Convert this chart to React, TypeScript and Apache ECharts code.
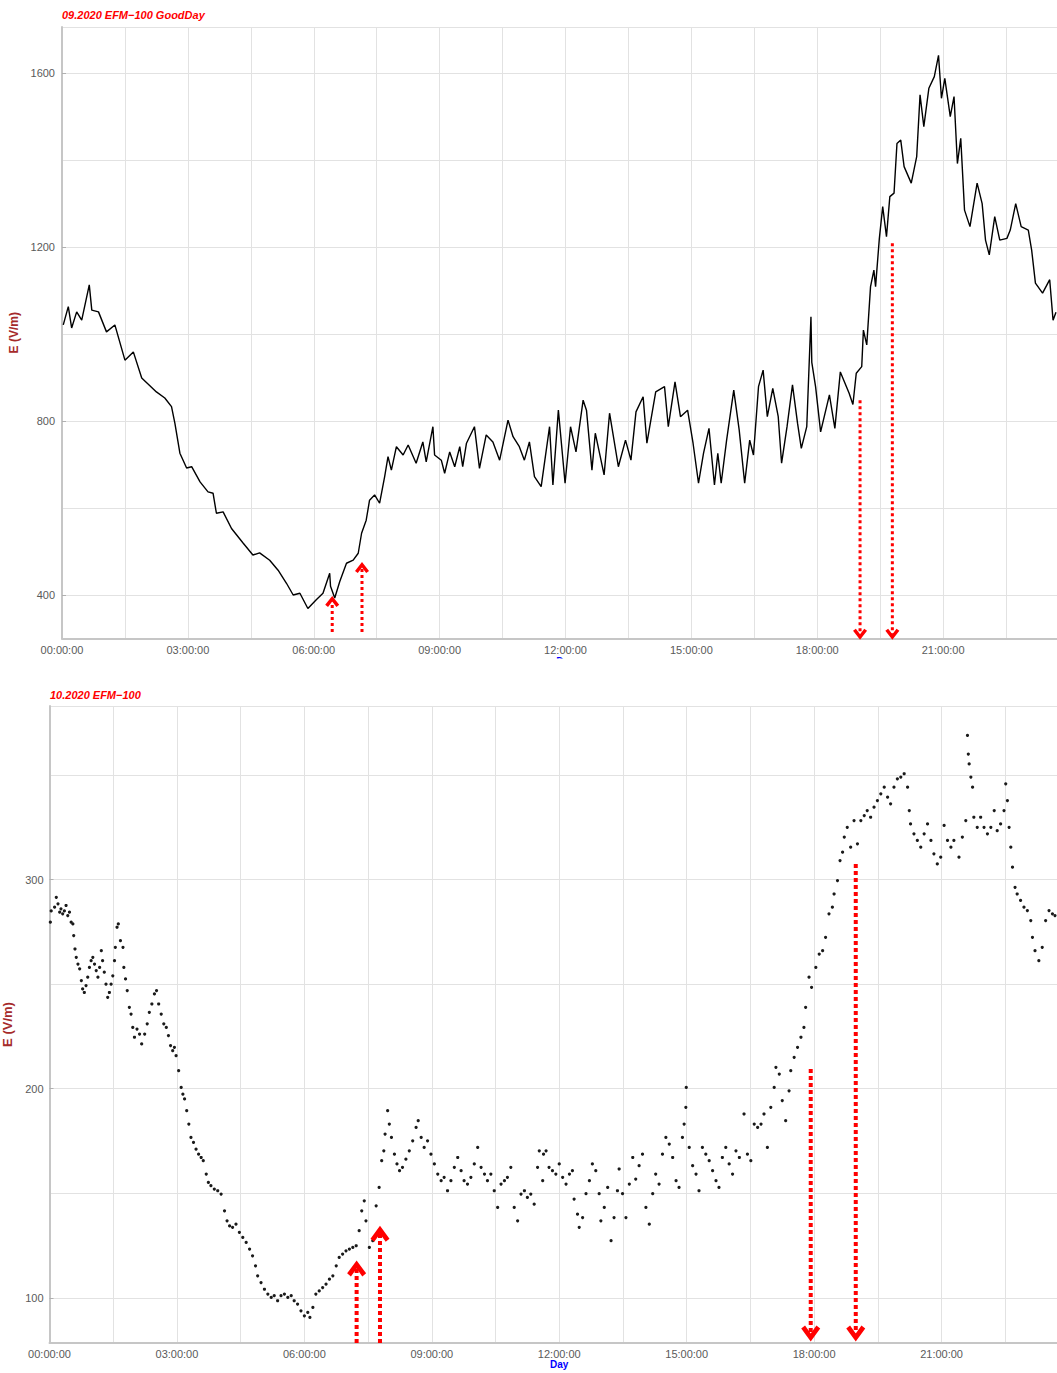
import React, { useEffect, useRef } from "react";
import * as echarts from "echarts";

// ---------- Data ----------
const topTitle = "09.2020 EFM\u2212100 GoodDay";
const bottomTitle = "10.2020 EFM\u2212100";
const yAxisName = "E (V/m)";
const xAxisName = "Day";

const xTickHours = [0, 3, 6, 9, 12, 15, 18, 21];
const topYTicks = [400, 800, 1200, 1600];
const bottomYTicks = [100, 200, 300];

// Top panel (09.2020, line)
const topHours = [
  0.03, 0.15, 0.23, 0.35, 0.47, 0.65, 0.71, 0.87, 1.06, 1.26, 1.5, 1.7, 1.9, 2.25, 2.45, 2.61, 2.69, 2.81, 2.97, 3.09,
  3.29, 3.48, 3.6, 3.68, 3.84, 4.04, 4.32, 4.55, 4.71, 4.95, 5.15, 5.35, 5.51, 5.67, 5.86, 6.06, 6.22, 6.38, 6.4, 6.5,
  6.62, 6.78, 6.94, 7.06, 7.14, 7.25, 7.33, 7.45, 7.57, 7.69, 7.77, 7.85, 7.97, 8.13, 8.25, 8.44, 8.6, 8.68, 8.84, 8.88,
  9.04, 9.12, 9.24, 9.36, 9.48, 9.55, 9.64, 9.83, 9.95, 10.11, 10.27, 10.43, 10.63, 10.75, 10.9, 11.02, 11.14, 11.26, 11.42, 11.62,
  11.7, 11.83, 11.99, 12.12, 12.25, 12.42, 12.5, 12.63, 12.71, 12.92, 13.05, 13.26, 13.43, 13.56, 13.68, 13.85, 13.94, 14.15, 14.36, 14.45,
  14.61, 14.74, 14.91, 15.04, 15.17, 15.29, 15.42, 15.55, 15.63, 15.71, 15.84, 16.01, 16.14, 16.27, 16.39, 16.48, 16.6, 16.71, 16.81, 16.94,
  17.07, 17.15, 17.28, 17.41, 17.53, 17.62, 17.75, 17.85, 17.87, 17.96, 18.08, 18.29, 18.42, 18.55, 18.76, 18.85, 18.93, 19.06, 19.1, 19.18,
  19.27, 19.35, 19.39, 19.48, 19.56, 19.65, 19.73, 19.83, 19.9, 19.99, 20.07, 20.24, 20.37, 20.45, 20.54, 20.66, 20.79, 20.89, 20.96, 21.04,
  21.17, 21.26, 21.34, 21.42, 21.51, 21.64, 21.81, 21.93, 22.01, 22.1, 22.23, 22.35, 22.52, 22.6, 22.73, 22.86, 23.03, 23.11, 23.2, 23.37,
  23.54, 23.62, 23.69,
];
const topValues = [
  1021, 1063, 1014, 1051, 1032, 1113, 1055, 1051, 1005, 1021, 940, 959, 899, 867, 853, 833, 795, 726, 692, 695,
  660, 637, 634, 588, 591, 553, 519, 492, 497, 480, 457, 427, 400, 404, 369, 389, 404, 450, 420, 393,
  431, 473, 480, 496, 542, 572, 618, 630, 611, 672, 718, 687, 741, 722, 745, 703, 752, 706, 787, 722,
  710, 680, 729, 695, 741, 695, 749, 787, 691, 768, 752, 710, 802, 764, 741, 710, 752, 672, 649, 787,
  653, 825, 657, 787, 729, 848, 825, 687, 772, 676, 818, 695, 756, 710, 821, 856, 749, 867, 879, 787,
  890, 810, 825, 749, 657, 726, 783, 653, 726, 657, 756, 871, 779, 657, 756, 722, 879, 917, 810, 875,
  810, 703, 787, 883, 795, 737, 787, 1040, 935, 879, 775, 860, 783, 913, 864, 838, 910, 925, 1009, 975,
  1109, 1147, 1109, 1220, 1293, 1224, 1316, 1324, 1438, 1446, 1385, 1347, 1408, 1550, 1477, 1565, 1592, 1641, 1542, 1588,
  1500, 1546, 1392, 1450, 1285, 1247, 1347, 1300, 1216, 1182, 1270, 1216, 1220, 1239, 1300, 1247, 1239, 1193, 1117, 1094,
  1125, 1032, 1050,
];

// Bottom panel (10.2020, dots)
const bottomHours = [
  0.02, 0.04, 0.12, 0.16, 0.2, 0.24, 0.27, 0.31, 0.35, 0.39, 0.43, 0.47, 0.51, 0.55, 0.57, 0.6, 0.63, 0.67, 0.71, 0.75,
  0.78, 0.82, 0.86, 0.9, 0.94, 0.98, 1.02, 1.06, 1.1, 1.14, 1.18, 1.22, 1.25, 1.29, 1.33, 1.37, 1.41, 1.45, 1.49, 1.53,
  1.55, 1.59, 1.62, 1.67, 1.73, 1.75, 1.79, 1.83, 1.88, 1.92, 1.96, 2.0, 2.06, 2.12, 2.17, 2.24, 2.3, 2.35, 2.41, 2.47,
  2.52, 2.57, 2.63, 2.69, 2.75, 2.8, 2.85, 2.9, 2.94, 2.98, 3.04, 3.1, 3.14, 3.18, 3.23, 3.28, 3.33, 3.39, 3.45, 3.51,
  3.57, 3.62, 3.69, 3.74, 3.8, 3.88, 3.96, 4.04, 4.12, 4.18, 4.24, 4.31, 4.39, 4.47, 4.55, 4.63, 4.71, 4.78, 4.85, 4.9,
  4.98, 5.06, 5.14, 5.22, 5.29, 5.37, 5.45, 5.53, 5.61, 5.69, 5.76, 5.84, 5.92, 6.0, 6.08, 6.13, 6.2, 6.27, 6.35, 6.43,
  6.51, 6.59, 6.67, 6.75, 6.82, 6.9, 6.98, 7.06, 7.14, 7.22, 7.29, 7.35, 7.41, 7.45, 7.53, 7.61, 7.69, 7.76, 7.82, 7.87,
  7.9, 7.96, 8.0, 8.05, 8.12, 8.18, 8.24, 8.31, 8.39, 8.47, 8.55, 8.63, 8.68, 8.75, 8.82, 8.9, 8.98, 9.06, 9.14, 9.22,
  9.29, 9.37, 9.45, 9.53, 9.61, 9.69, 9.76, 9.84, 9.92, 10.0, 10.08, 10.16, 10.24, 10.31, 10.39, 10.47, 10.55, 10.63, 10.71, 10.78,
  10.86, 10.94, 11.02, 11.1, 11.18, 11.25, 11.33, 11.41, 11.49, 11.53, 11.61,
  11.63, 11.69, 11.76, 11.84, 11.92, 12.0, 12.08, 12.16, 12.24, 12.31, 12.35, 12.43, 12.47, 12.55, 12.63, 12.71, 12.78, 12.86, 12.94, 12.98,
  13.06, 13.14, 13.22, 13.29, 13.37, 13.41, 13.49, 13.57, 13.65, 13.73, 13.8, 13.88, 13.96, 14.04, 14.12, 14.2, 14.27, 14.35, 14.43, 14.51,
  14.59, 14.67, 14.75, 14.82, 14.9, 14.94, 14.98, 14.99, 15.06, 15.14, 15.22, 15.29, 15.37, 15.45, 15.53, 15.61, 15.69, 15.76, 15.84, 15.92,
  16.0, 16.08, 16.16, 16.24, 16.35, 16.43, 16.51, 16.59, 16.67, 16.75, 16.82, 16.9, 16.98, 17.06, 17.1, 17.18, 17.25, 17.33, 17.41, 17.45,
  17.53, 17.61, 17.69, 17.76, 17.8, 17.88, 17.94, 18.04, 18.12, 18.2, 18.27, 18.35, 18.43, 18.47, 18.55, 18.61, 18.67, 18.71, 18.78, 18.86,
  18.94, 19.02, 19.1, 19.18, 19.25, 19.33, 19.41, 19.49, 19.57, 19.65, 19.73, 19.8, 19.88, 19.96, 20.04, 20.12, 20.2, 20.24, 20.27, 20.35,
  20.43, 20.51, 20.59, 20.67, 20.75, 20.82, 20.9, 20.98, 21.06, 21.14, 21.22, 21.29, 21.41, 21.49, 21.57, 21.61, 21.63, 21.65, 21.69, 21.73,
  21.76, 21.84, 21.92, 22.0, 22.08, 22.16, 22.24, 22.31, 22.39, 22.47, 22.51, 22.55, 22.59, 22.63, 22.67, 22.73, 22.78, 22.86, 22.94, 23.02,
  23.1, 23.14, 23.2, 23.29, 23.37, 23.45, 23.53, 23.61, 23.67,
];
const bottomValues = [
  279.6, 285, 286.8, 291.5, 288.4, 284.4, 286, 283.6, 285, 287.6, 282.8, 284.4, 279.6, 278.8, 273.2, 266.8, 262.8, 259.6, 257.3, 251.7,
  247.7, 246, 249.3, 253.3, 258, 261.2, 262.8, 259.6, 256.5, 253.3, 258, 266, 261.2, 255.7, 250, 243.7, 246, 250, 254, 261.2,
  267.6, 277.2, 278.8, 270.8, 267.6, 258, 252.5, 246.9, 238.9, 235.7, 229.3, 224.6, 228.5, 226.1, 221.4, 226.1, 231, 236.5, 240.5, 245.3,
  246.9, 240.5, 235.7, 231, 229.3, 225.4, 220.6, 218.2, 219.8, 215.8, 208.6, 200.6, 197.4, 195.1, 189.5, 183.1, 176.7, 174.3, 171.1, 168.7,
  167.1, 165.6, 159.2, 155.2, 153.6, 152, 151.2, 149.6, 141.6, 136.8, 134.4, 133.7, 135.2, 131.3, 128.9, 126.5, 123.3, 120.1, 115.3, 110.5,
  107.3, 104.1, 101.8, 100.2, 101, 98.6, 101, 101.8, 100.2, 101, 98.6, 97, 93.8, 91.4, 93, 90.6, 95.4, 101.8, 103.3, 104.9,
  106.5, 108.9, 110.5, 115.3, 119.3, 120.9, 122.5, 123.3, 124.1, 124.9, 132.1, 141.6, 146.4, 136.8, 124.1, 127.3, 144, 152.8, 165.6, 170.3,
  178.3, 189.5, 183.1, 176.7, 168.7, 164, 160.8, 162.4, 166.3, 170.3, 175.1, 181.5, 184.7, 176.7, 171.9, 175.1, 168.7, 164, 159.2, 156,
  157.6, 151.2, 156, 162.4, 167.1, 160.8, 156, 154.4, 157.6, 164, 171.9, 162.4, 159.2, 156, 159.2, 151.2, 143.2, 154.4, 156, 157.6,
  162.4, 143.2, 136.8, 149.6, 151.2, 148, 149.6, 144.8, 162.4, 170.3, 156,
  168.7, 170.3, 162.4, 160.8, 159.2, 164, 157.6, 154.4, 159.2, 160.8, 147.2, 140, 133.7, 138.4, 149.8, 156, 164, 160.8, 149.8, 136.8,
  143.2, 152.8, 127.3, 138.4, 151.2, 161.6, 149.8, 138.4, 154.4, 167.1, 156.8, 163.2, 168.7, 143.2, 135.2, 149.8, 159.2, 154.4, 168.7, 176.7,
  173.5, 167.1, 156, 152.8, 176.7, 183.1, 191.1, 200.6, 171.9, 163.2, 159.2, 151.2, 171.9, 168.7, 165.6, 160.8, 156, 152.8, 167.1, 171.9,
  164, 159.2, 170.3, 167.1, 187.9, 168.7, 165.6, 183.1, 181.5, 183.1, 187.9, 171.9, 191.1, 200.6, 210.2, 207, 194.3, 184.7, 199, 208.6,
  215, 219.8, 224.6, 229.3, 238.9, 253.3, 248.5, 258, 264.4, 266, 272.4, 283.6, 286.8, 293.1, 299.5, 309.1, 313.1, 320.3, 325, 315.5,
  328.2, 317.1, 328.2, 330.6, 333, 329.8, 334.6, 337.8, 341, 344.2, 339.4, 336.2, 344.2, 348.2, 349, 350.6, 344.2, 333, 326.6, 321.9,
  318.7, 315.5, 321.9, 326.6, 318.7, 312.3, 307.5, 310.7, 325.9, 318.7, 315.5, 318.7, 310.7, 320.3, 328.2, 368.9, 360, 355.3, 349, 344.2,
  329.8, 325, 329.8, 325, 321.9, 325, 333, 323.4, 326.6, 333, 345.8, 337.8, 325, 315.5, 305.9, 296.3, 293.1, 290, 286.8, 285.2,
  280.4, 272.4, 266, 261.2, 267.6, 280.4, 285.2, 283.6, 282.8,
];

// Red annotation arrows: x (hours), start value, end value (chevron centre)
const topArrowX = [6.44, 7.15, 19.02, 19.79];
const topArrowFrom = [315, 315, 848, 1209];
const topArrowTo = [385, 463, 310, 310];
const bottomArrowX = [7.23, 7.78, 17.92, 18.98];
const bottomArrowFrom = [78.4, 78.4, 209.4, 307.5];
const bottomArrowTo = [114, 130.6, 83, 83];

// ---------- Styling ----------
const FONT = '"Liberation Sans", Arial, Helvetica, sans-serif';
const AXIS_GRAY = "#c6c6c6";
const GRID_GRAY = "#e2e2e2";
const LABEL_GRAY = "#5a5a5a";
const CHEVRON = "path://M0,12 L10,0 L20,12 L16,15 L10,7.5 L4,15 Z";

const fmtTime = (v: number) =>
  Math.abs(v % 3) < 1e-6 && v < 24 ? String(Math.round(v)).padStart(2, "0") + ":00:00" : "";

function makeXAxis(gridIndex: number, labelMargin: number, nameGap: number) {
  return {
    type: "value",
    gridIndex,
    min: 0,
    max: 24,
    interval: 1.5,
    axisLine: { show: true, onZero: false, lineStyle: { color: AXIS_GRAY, width: 2 } },
    axisTick: { show: false },
    axisLabel: {
      formatter: fmtTime,
      color: LABEL_GRAY,
      fontSize: 11,
      fontFamily: FONT,
      margin: labelMargin,
      hideOverlap: false,
    },
    splitLine: { show: true, lineStyle: { color: GRID_GRAY, width: 1 } },
    name: xAxisName,
    nameLocation: "middle",
    nameGap,
    nameTextStyle: { color: "#0000ff", fontWeight: "bold", fontSize: 10, fontFamily: FONT, lineHeight: 10 },
  };
}

function makeYAxis(
  gridIndex: number,
  min: number,
  max: number,
  step: number,
  labelStep: number,
  nameGap: number,
  nameSize: number,
  margin: number
) {
  return {
    type: "value",
    gridIndex,
    min,
    max,
    minInterval: step,
    maxInterval: step,
    splitNumber: Math.round((max - min) / step),
    axisLine: { show: true, onZero: false, lineStyle: { color: AXIS_GRAY, width: 2 } },
    axisTick: { show: false },
    axisLabel: {
      formatter: (v: number) => (Math.abs(v % labelStep) < 1e-6 ? String(v) : ""),
      color: LABEL_GRAY,
      fontSize: 11,
      fontFamily: FONT,
      margin,
      showMinLabel: true,
      showMaxLabel: true,
      hideOverlap: false,
    },
    splitLine: { show: true, lineStyle: { color: GRID_GRAY, width: 1 } },
    name: yAxisName,
    nameLocation: "middle",
    nameGap,
    nameTextStyle: { color: "#a52a2a", fontWeight: "bold", fontSize: nameSize, fontFamily: FONT },
  };
}

// overlay axis that only draws the small ticks next to the labelled values
function makeTickAxis(gridIndex: number, min: number, max: number, ticks: number[]) {
  return {
    type: "value",
    gridIndex,
    min,
    max,
    axisLine: { show: false },
    axisLabel: { show: false },
    splitLine: { show: false },
    axisTick: { show: true, customValues: ticks, length: 4, lineStyle: { color: "#b0b0b0", width: 1 } },
  };
}

function arrowSeries(
  axisIndex: number,
  xs: number[],
  from: number[],
  to: number[],
  width: number,
  dash: number[],
  chevronSize: number[]
) {
  const lines = xs.map((x, i) => ({
    type: "line",
    xAxisIndex: axisIndex,
    yAxisIndex: axisIndex,
    data: [
      [x, from[i]],
      [x, to[i]],
    ],
    showSymbol: false,
    symbol: "none",
    silent: true,
    z: 5,
    lineStyle: { color: "#ff0000", width, type: dash, cap: "butt" },
  }));
  const heads = {
    type: "scatter",
    xAxisIndex: axisIndex,
    yAxisIndex: axisIndex,
    silent: true,
    z: 6,
    symbol: CHEVRON,
    symbolSize: chevronSize,
    itemStyle: { color: "#ff0000", opacity: 1 },
    data: xs.map((x, i) => ({ value: [x, to[i]], symbolRotate: to[i] > from[i] ? 0 : 180 })),
  };
  return [...lines, heads];
}

function buildOption() {
  return {
    animation: false,
    backgroundColor: "#ffffff",
    textStyle: { fontFamily: FONT },
    grid: [
      { left: 62, top: 27, width: 1007, height: 611.5, containLabel: false, outerBoundsMode: "none" },
      { left: 49.5, top: 706, width: 1019.5, height: 637, containLabel: false, outerBoundsMode: "none" },
    ],
    xAxis: [makeXAxis(0, 6, 15), makeXAxis(1, 5, 15)],
    yAxis: [
      makeYAxis(0, 300, 1706, 200, 400, 37, 12, 7),
      makeYAxis(1, 78.4, 383, 50, 100, 31, 13, 6),
      makeTickAxis(0, 300, 1706, topYTicks),
      makeTickAxis(1, 78.4, 383, bottomYTicks),
    ],
    series: [
      {
        type: "line",
        xAxisIndex: 0,
        yAxisIndex: 0,
        data: topHours.map((h, i) => [h, topValues[i]]),
        showSymbol: false,
        symbol: "none",
        silent: true,
        z: 3,
        lineStyle: { color: "#000000", width: 1.4 },
      },
      {
        type: "scatter",
        xAxisIndex: 1,
        yAxisIndex: 1,
        data: bottomHours.map((h, i) => [h, bottomValues[i]]),
        symbol: "circle",
        symbolSize: 3.2,
        silent: true,
        z: 3,
        itemStyle: { color: "#1a1a1a", opacity: 1 },
      },
      ...arrowSeries(0, topArrowX, topArrowFrom, topArrowTo, 3, [3, 3], [14, 11]),
      ...arrowSeries(1, bottomArrowX, bottomArrowFrom, bottomArrowTo, 4, [4, 3], [19, 16]),
    ],
    graphic: [
      {
        type: "text",
        left: 62,
        top: 9,
        silent: true,
        style: { text: topTitle, fill: "#ff0000", font: `italic bold 11px ${FONT}` },
      },
      {
        type: "text",
        left: 50,
        top: 689,
        silent: true,
        style: { text: bottomTitle, fill: "#ff0000", font: `italic bold 11px ${FONT}` },
      },
      {
        type: "rect",
        silent: true,
        z: 100,
        shape: { x: 500, y: 658.5, width: 130, height: 24 },
        style: { fill: "#ffffff" },
      },
    ],
  };
}

export default function App() {
  const ref = useRef<HTMLDivElement>(null);
  useEffect(() => {
    if (!ref.current) return;
    const chart = echarts.init(ref.current, null, { renderer: "svg", width: 1057, height: 1373 });
    chart.setOption(buildOption() as any);
    return () => {
      chart.dispose();
    };
  }, []);
  return (
    <div
      ref={ref}
      style={{ position: "absolute", left: 0, top: 0, width: 1057, height: 1373, overflow: "hidden", background: "#fff" }}
    />
  );
}
